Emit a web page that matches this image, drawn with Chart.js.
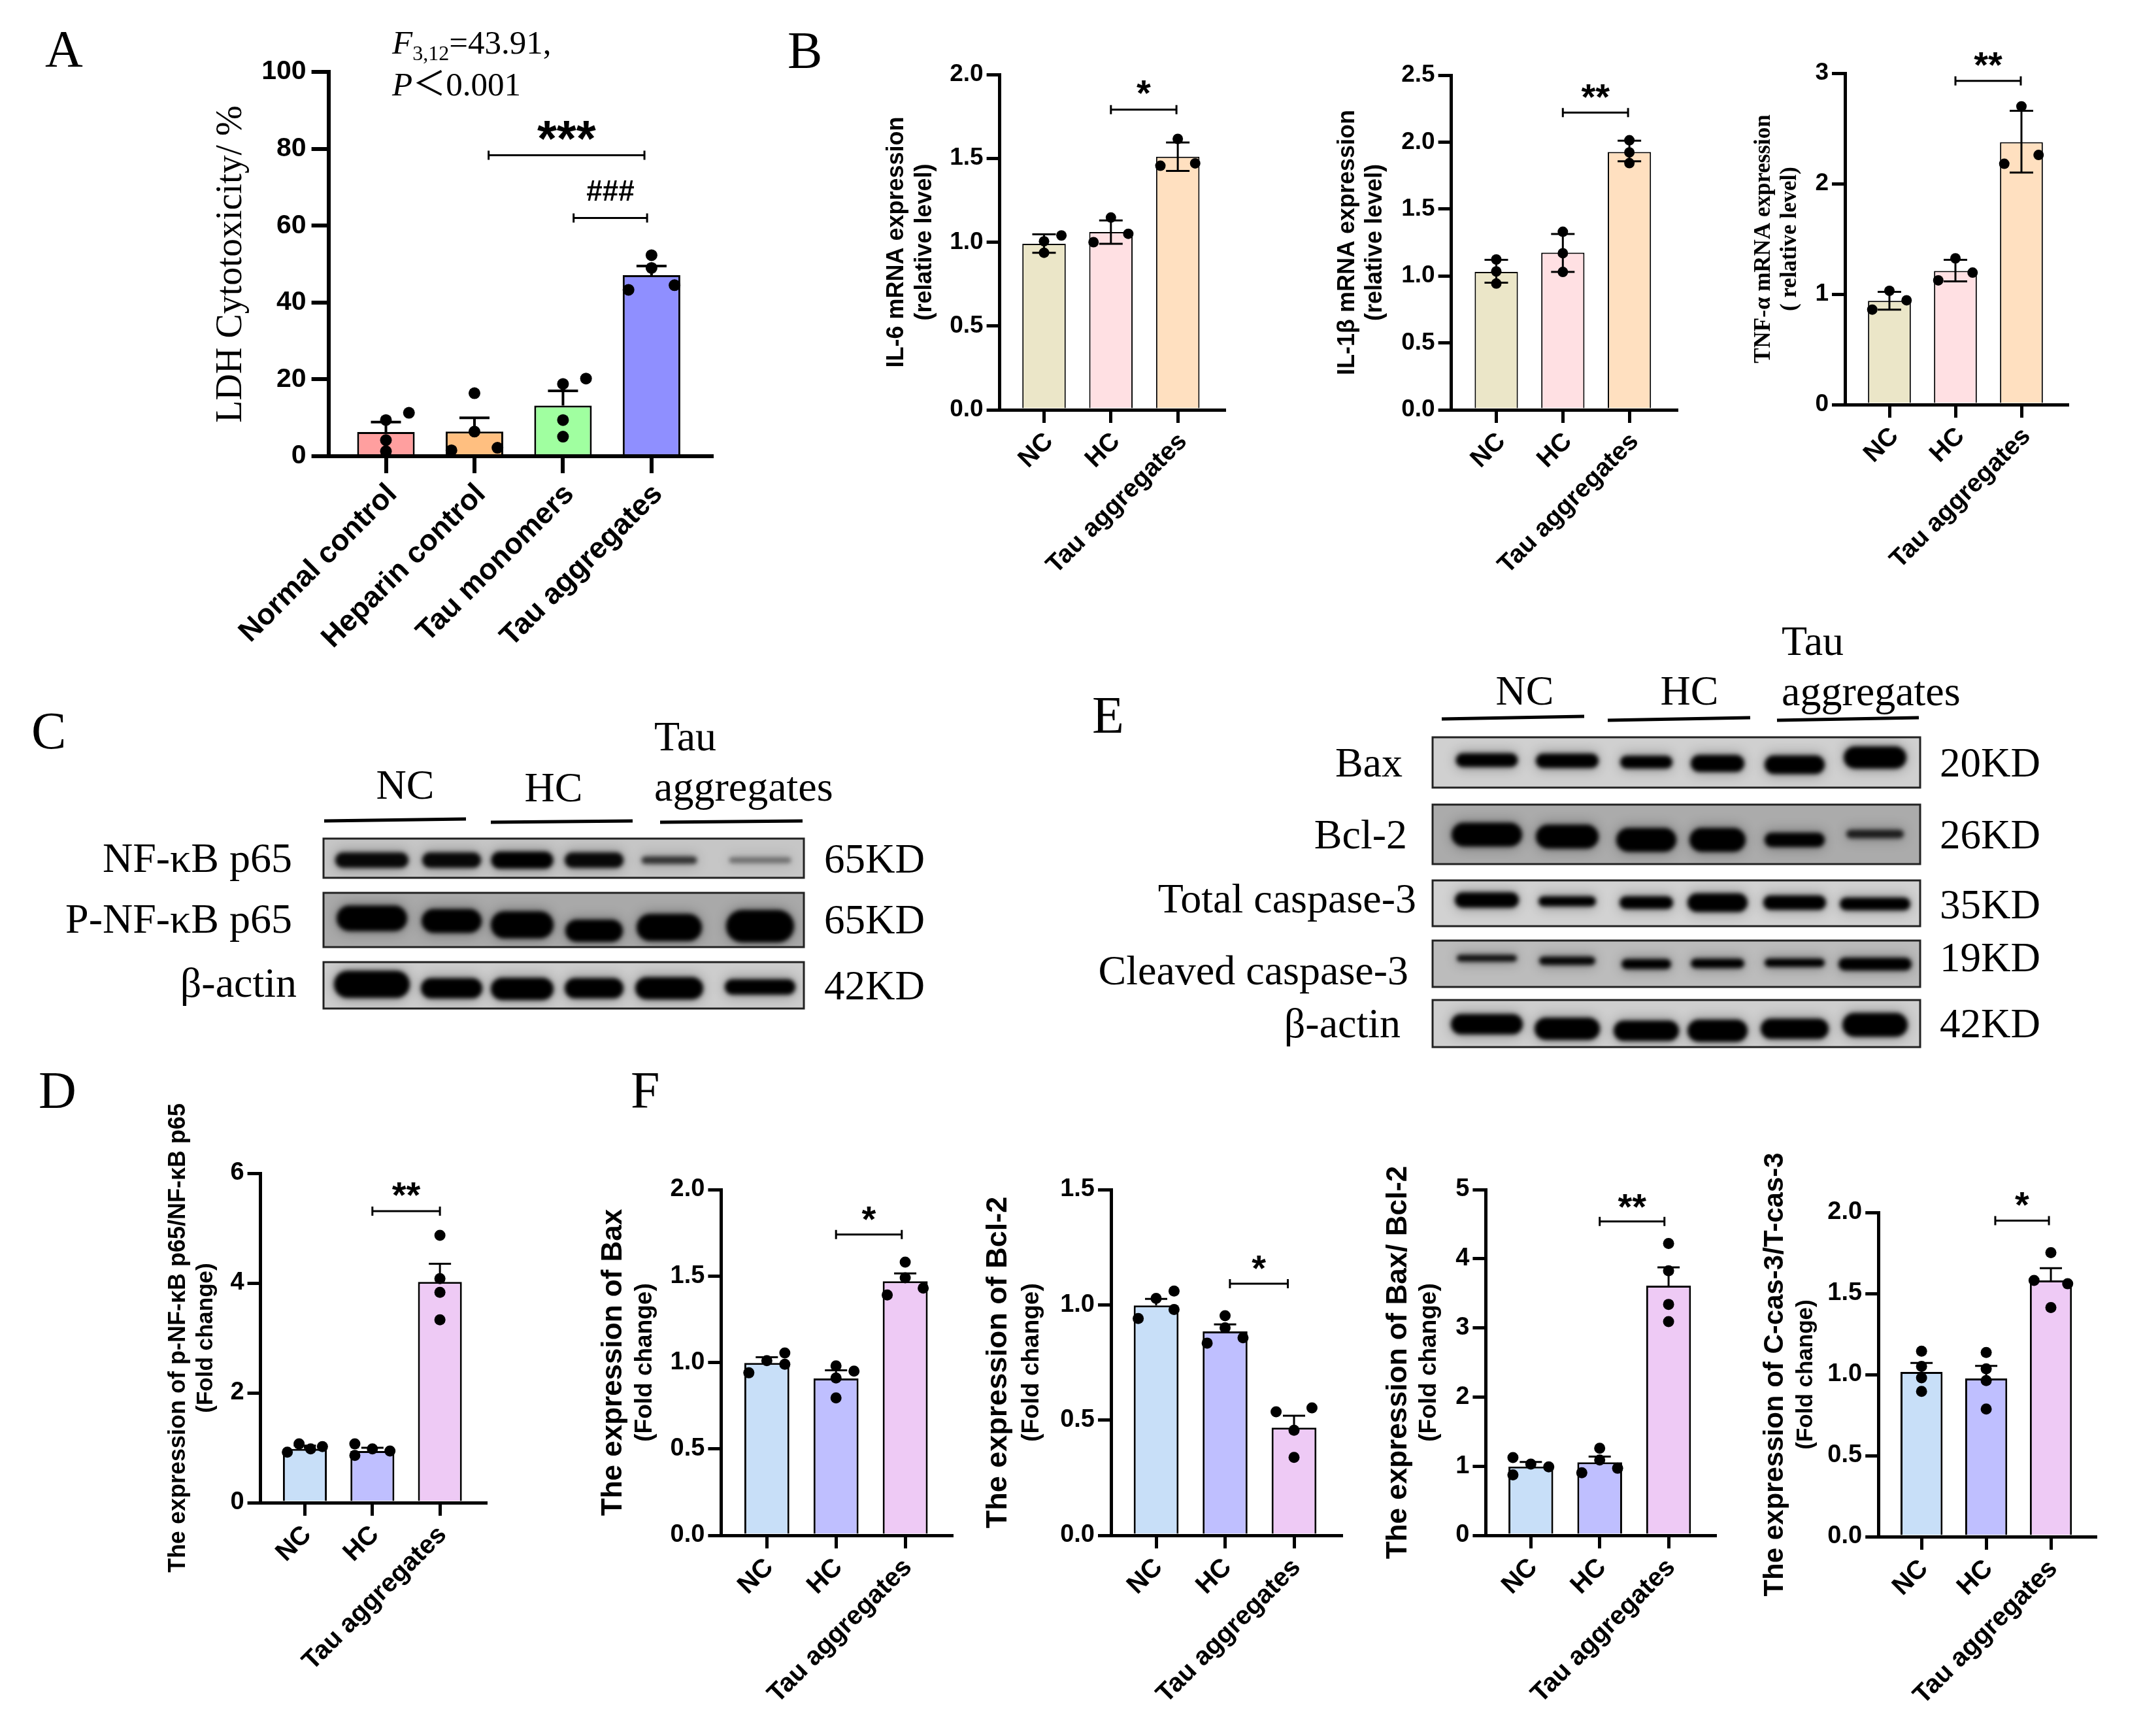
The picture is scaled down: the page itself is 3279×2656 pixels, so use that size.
<!DOCTYPE html>
<html>
<head>
<meta charset="utf-8">
<script src="https://cdn.jsdelivr.net/npm/chart.js@4"></script>
<style>
  html, body { margin: 0; background: #fff; }
  #page { position: relative; width: 3279px; height: 2656px; overflow: hidden; }
  #page canvas { position: absolute; }
  .t { position: absolute; font-family: "Liberation Serif", serif; color: #000; white-space: nowrap; line-height: 1; }
</style>
</head>
<body>
<div id="page"><canvas id="blots" width="3279" height="2656" style="left:0;top:0"></canvas></div>
<script>
// group names
const ldhGroups = ['Normal control', 'Heparin control', 'Tau monomers', 'Tau aggregates'];
const tauGroups = ['NC', 'HC', 'Tau aggregates'];

// A - LDH
const ldhTicks = [0, 20, 40, 60, 80, 100];
const ldhLabels = ['0', '20', '40', '60', '80', '100'];
const ldhMeans = [6.3, 6.4, 13.2, 47.1];
const ldhErrHigh = [8.9, 10, 17, 49.5];
const ldhDots = [[11.3, 9.4, 4.2, 1.3], [16.4, 6.4, 1.55, 2.2], [18.8, 20.2, 9.4, 5.1], [52.3, 49, 44.5, 43.3]];
const ldhSides = [[1, 0, 0, 0], [0, 0, -1, 1], [0, 1, 0, 0], [0, 0, 1, -1]];

// B - mRNA
const il6Ticks = [0, 0.5, 1, 1.5, 2];
const il6Labels = ['0.0', '0.5', '1.0', '1.5', '2.0'];
const il6Means = [0.99, 1.06, 1.51];
const il6ErrHigh = [1.047, 1.13, 1.595];
const il6ErrLow = [0.937, 0.99, 1.425];
const il6Dots = [[1.005, 1.04, 0.937], [1.147, 1.05, 1.0], [1.616, 1.456, 1.47]];
const il6Sides = [[0, 1, 0], [0, 1, -1], [0, -1, 1]];

const il1Ticks = [0, 0.5, 1, 1.5, 2, 2.5];
const il1Labels = ['0.0', '0.5', '1.0', '1.5', '2.0', '2.5'];
const il1Means = [1.03, 1.174, 1.926];
const il1ErrHigh = [1.12, 1.314, 2.01];
const il1ErrLow = [0.95, 1.03, 1.857];
const il1Dots = [[1.123, 1.034, 0.943], [1.33, 1.17, 1.03], [2.014, 1.923, 1.843]];
const il1Sides = [[0, 0, 0], [0, 0, 0], [0, 0, 0]];

const tnfTicks = [0, 1, 2, 3];
const tnfLabels = ['0', '1', '2', '3'];
const tnfMeans = [0.94, 1.21, 2.376];
const tnfErrHigh = [1.02, 1.31, 2.66];
const tnfErrLow = [0.86, 1.115, 2.1];
const tnfDots = [[1.03, 0.944, 0.86], [1.324, 1.195, 1.125], [2.7, 2.26, 2.18]];
const tnfSides = [[0, 1, -1], [0, 1, -1], [0, 1, -1]];

// D - p-NF-kB
const pnfTicks = [0, 2, 4, 6];
const pnfLabels = ['0', '2', '4', '6'];
const pnfMeans = [0.98, 0.94, 4.02];
const pnfErrHigh = [1.04, 1.0, 4.35];
const pnfDots = [[0.92, 1.07, 0.98, 1.02], [1.07, 0.86, 0.98, 0.94], [4.87, 4.08, 3.83, 3.33]];
const pnfSides = [[-1, -0.33, 0.33, 1], [-1, -1, 0, 1], [0, 0, 0, 0]];

// F - apoptosis markers
const baxTicks = [0, 0.5, 1, 1.5, 2];
const baxLabels = ['0.0', '0.5', '1.0', '1.5', '2.0'];
const baxMeans = [0.9975, 0.9075, 1.47];
const baxErrHigh = [1.03, 0.955, 1.515];
const baxDots = [[0.94, 1.01, 1.055, 0.99], [0.98, 0.95, 0.91, 0.795], [1.58, 1.49, 1.43, 1.39]];
const baxSides = [[-1, 0, 1, 1], [0, 1, 0, 0], [0, 0, 1, -1]];

const bclTicks = [0, 0.5, 1, 1.5];
const bclLabels = ['0.0', '0.5', '1.0', '1.5'];
const bclMeans = [0.9975, 0.885, 0.467];
const bclErrHigh = [1.026, 0.915, 0.519];
const bclDots = [[0.941, 1.028, 1.06, 0.98], [0.953, 0.9, 0.834, 0.857], [0.536, 0.553, 0.456, 0.338]];
const bclSides = [[-1, 0, 1, 1], [0, 0, -1, 1], [-1, 1, 0, 0]];

const ratioTicks = [0, 1, 2, 3, 4, 5];
const ratioLabels = ['0', '1', '2', '3', '4', '5'];
const ratioMeans = [0.994, 1.056, 3.61];
const ratioErrHigh = [1.06, 1.14, 3.875];
const ratioDots = [[1.125, 0.875, 1.03, 0.99], [1.26, 1.09, 0.906, 0.97], [4.22, 3.825, 3.34, 3.09]];
const ratioSides = [[-1, -1, 0, 1], [0, 0, -1, 1], [0, 0, 0, 0]];

const casTicks = [0, 0.5, 1, 1.5, 2];
const casLabels = ['0.0', '0.5', '1.0', '1.5', '2.0'];
const casMeans = [1.016, 0.976, 1.581];
const casErrHigh = [1.072, 1.053, 1.656];
const casDots = [[1.144, 1.05, 0.98, 0.896], [1.136, 1.035, 0.963, 0.787], [1.752, 1.581, 1.56, 1.413]];
const casSides = [[0, 0, 0, 0], [0, 0, 0, 0], [0, -1, 1, 0]];

const ldhColors = ['#FF9F9F', '#FFBF80', '#A0FFA0', '#8F8FFF'];
const mrnaColors = ['#EBE6C8', '#FFE0E3', '#FFE0C0'];
const blotColors = ['#C8DFF8', '#BFBFFF', '#EECAF5'];

const SANS = '"Liberation Sans", Arial, sans-serif';
const SERIF = '"Liberation Serif", serif';

// error bars, significance brackets and the second title line
const panelMarks = {
    id: 'panelMarks',
    afterDatasetDraw(chart, args, o) {
        if (args.index !== 0) return;
        const { ctx, scales: { x, y } } = chart;
        ctx.save();
        ctx.strokeStyle = '#000';
        ctx.lineWidth = o.errWidth;
        o.errHigh.forEach((hi, i) => {
            const px = x.getPixelForValue(i);
            const lo = o.errLow ? o.errLow[i] : o.means[i];
            ctx.beginPath();
            ctx.moveTo(px, y.getPixelForValue(lo));
            ctx.lineTo(px, y.getPixelForValue(hi));
            ctx.moveTo(px - o.cap, y.getPixelForValue(hi));
            ctx.lineTo(px + o.cap, y.getPixelForValue(hi));
            if (o.errLow) {
                ctx.moveTo(px - o.cap, y.getPixelForValue(lo));
                ctx.lineTo(px + o.cap, y.getPixelForValue(lo));
            }
            ctx.stroke();
        });
        ctx.restore();
    },
    afterDraw(chart, args, o) {
        const { ctx, scales: { x, y } } = chart;
        ctx.save();
        ctx.strokeStyle = '#000';
        ctx.fillStyle = '#000';
        ctx.lineWidth = 3;
        o.brackets.forEach(b => {
            const x1 = x.getPixelForValue(b.from), x2 = x.getPixelForValue(b.to), py = y.getPixelForValue(b.y);
            ctx.beginPath();
            ctx.moveTo(x1, py - 7); ctx.lineTo(x1, py + 7);
            ctx.moveTo(x1, py); ctx.lineTo(x2, py);
            ctx.moveTo(x2, py - 7); ctx.lineTo(x2, py + 7);
            ctx.stroke();
            ctx.font = `bold ${b.size}px ${SANS}`;
            ctx.textAlign = 'center';
            ctx.textBaseline = 'alphabetic';
            ctx.fillText(b.label, (x1 + x2) / 2, py + b.drop);
        });
        if (o.sub) {
            ctx.save();
            ctx.translate(o.sub.x, (y.top + y.bottom) / 2);
            ctx.rotate(-Math.PI / 2);
            ctx.font = o.sub.font;
            ctx.textAlign = 'center';
            ctx.textBaseline = 'middle';
            ctx.fillText(o.sub.text, 0, 0);
            ctx.restore();
        }
        ctx.restore();
    }
};

function renderPanel(p) {
    const page = document.getElementById('page');
    const padTop = Math.min(p.top, 130), padRight = 20, xH = p.xH || 340;
    const yW = p.left - (p.titleX - 0.6 * p.titleSize);
    const canvas = document.createElement('canvas');
    const canvasLeft = p.left - yW, canvasTop = p.top - padTop;
    canvas.width = yW + (p.right - p.left) + padRight;
    canvas.height = padTop + (p.bottom - p.top) + xH;
    canvas.style.left = canvasLeft + 'px';
    canvas.style.top = canvasTop + 'px';
    page.appendChild(canvas);

    const dots = [];
    p.dots.forEach((g, i) => g.forEach((v, j) => dots.push({ x: i + p.sides[i][j] * 0.26, y: v })));

    new Chart(canvas, {
        type: 'bar',
        data: {
            datasets: [{
                type: 'bar',
                data: p.means.map((v, i) => ({ x: i, y: v })),
                backgroundColor: p.colors,
                borderColor: '#000',
                borderWidth: p.barBorder,
                barPercentage: 0.65,
                categoryPercentage: 1,
                order: 2
            }, {
                type: 'scatter',
                data: dots,
                pointRadius: p.dotR,
                pointBackgroundColor: '#000',
                pointBorderWidth: 0,
                clip: false,
                order: 1
            }]
        },
        options: {
            responsive: false,
            animation: false,
            layout: { autoPadding: false, padding: { top: padTop, right: padRight, left: 0, bottom: 0 } },
            plugins: {
                legend: { display: false },
                tooltip: { enabled: false },
                panelMarks: {
                    means: p.means, errHigh: p.errHigh, errLow: p.errLow,
                    cap: p.cap, errWidth: p.errWidth, brackets: p.brackets,
                    sub: p.sub ? { text: p.sub, x: p.subX - canvasLeft, font: p.subFont } : null
                }
            },
            scales: {
                x: {
                    type: 'linear',
                    offset: false,
                    min: (p.left - p.firstX) / p.stepX,
                    max: (p.right - p.firstX) / p.stepX,
                    afterBuildTicks: a => { a.ticks = p.groups.map((g, i) => ({ value: i })); },
                    afterFit: a => { a.height = xH; },
                    border: { color: '#000', width: p.axisW },
                    grid: { offset: false, drawOnChartArea: false, color: '#000', lineWidth: p.tickW, tickLength: p.tickLen },
                    ticks: {
                        autoSkip: false, minRotation: 45, maxRotation: 45, padding: p.xPad, labelOffset: p.xShift,
                        color: '#000', font: { family: SANS, weight: 'bold', size: p.xSize },
                        callback: (v, i) => p.groups[i]
                    }
                },
                y: {
                    min: 0,
                    max: p.ticks[p.ticks.length - 1],
                    afterBuildTicks: a => { a.ticks = p.ticks.map(v => ({ value: v })); },
                    afterFit: a => { a.width = yW; },
                    border: { color: '#000', width: p.axisW },
                    grid: { drawOnChartArea: false, color: '#000', lineWidth: p.tickW, tickLength: p.tickLen },
                    ticks: {
                        padding: p.yPad, color: '#000',
                        font: { family: SANS, weight: 'bold', size: p.ySize },
                        callback: (v, i) => p.labels[i]
                    },
                    title: {
                        display: true, text: p.title, color: '#000', padding: 0,
                        font: { family: p.titleFamily || SANS, weight: p.titleWeight || 'bold', size: p.titleSize }
                    }
                }
            }
        },
        plugins: [panelMarks]
    });
}

const mrnaStyle = { groups: tauGroups, colors: mrnaColors, barBorder: 2, dotR: 8, cap: 18, errWidth: 3, axisW: 5, tickW: 5, tickLen: 20, xPad: 6, xShift: 8, yPad: 5, xSize: 39, ySize: 37 };
const foldStyle = { groups: tauGroups, colors: blotColors, barBorder: 3, dotR: 8.5, cap: 17, errWidth: 3, axisW: 5, tickW: 5, tickLen: 20, xPad: 6, xShift: 4, yPad: 5, xSize: 40, ySize: 38, subFont: `bold 37px ${SANS}`, sub: '(Fold change)' };

renderPanel({
    groups: ldhGroups, colors: ldhColors, barBorder: 3, dotR: 9, cap: 23, errWidth: 4, axisW: 6, tickW: 6, tickLen: 26, xPad: 6, xShift: 10, yPad: 8, xSize: 45, ySize: 41,
    left: 503, right: 1090, top: 110, bottom: 698, firstX: 591, stepX: 135.6,
    ticks: ldhTicks, labels: ldhLabels, means: ldhMeans, errHigh: ldhErrHigh, dots: ldhDots, sides: ldhSides,
    title: 'LDH Cytotoxicity/ %', titleX: 355, titleSize: 56, titleFamily: SERIF, titleWeight: 'normal',
    brackets: [{ from: 1.16, to: 2.92, y: 78.3, label: '***', size: 77, drop: 1 }, { from: 2.12, to: 2.95, y: 62, label: '###', size: 44, drop: -26 }]
});
renderPanel({
    ...mrnaStyle, left: 1530, right: 1874, top: 114, bottom: 627, firstX: 1598, stepX: 102.5,
    ticks: il6Ticks, labels: il6Labels, means: il6Means, errHigh: il6ErrHigh, errLow: il6ErrLow, dots: il6Dots, sides: il6Sides,
    title: 'IL-6 mRNA expression', titleX: 1372, titleSize: 36, sub: '(relative level)', subX: 1415, subFont: `bold 36px ${SANS}`,
    brackets: [{ from: 1, to: 1.98, y: 1.79, label: '*', size: 56, drop: -7 }]
});
renderPanel({
    ...mrnaStyle, left: 2221, right: 2566, top: 115, bottom: 627, firstX: 2290, stepX: 102,
    ticks: il1Ticks, labels: il1Labels, means: il1Means, errHigh: il1ErrHigh, errLow: il1ErrLow, dots: il1Dots, sides: il1Sides,
    title: 'IL-1β mRNA expression', titleX: 2062, titleSize: 36, sub: '(relative level)', subX: 2104, subFont: `bold 36px ${SANS}`,
    brackets: [{ from: 1, to: 1.98, y: 2.22, label: '**', size: 56, drop: -5 }]
});
renderPanel({
    ...mrnaStyle, left: 2823, right: 3163, top: 112, bottom: 619, firstX: 2891, stepX: 101,
    ticks: tnfTicks, labels: tnfLabels, means: tnfMeans, errHigh: tnfErrHigh, errLow: tnfErrLow, dots: tnfDots, sides: tnfSides,
    title: 'TNF-α mRNA expression', titleX: 2699, titleSize: 35, titleFamily: SERIF, sub: '( relative level)', subX: 2739, subFont: `bold 35px ${SERIF}`,
    brackets: [{ from: 1, to: 1.99, y: 2.93, label: '**', size: 56, drop: -6 }]
});
renderPanel({
    ...foldStyle, left: 399, right: 744, top: 1795, bottom: 2299, firstX: 467, stepX: 103.5,
    ticks: pnfTicks, labels: pnfLabels, means: pnfMeans, errHigh: pnfErrHigh, dots: pnfDots, sides: pnfSides,
    title: 'The expression of p-NF-κB p65/NF-κB p65', titleX: 273, titleSize: 36, subX: 316, subFont: `bold 35px ${SANS}`,
    brackets: [{ from: 1, to: 2, y: 5.31, label: '**', size: 56, drop: -6 }]
});
renderPanel({
    ...foldStyle, left: 1103, right: 1456, top: 1820, bottom: 2349, firstX: 1173, stepX: 106,
    ticks: baxTicks, labels: baxLabels, means: baxMeans, errHigh: baxErrHigh, dots: baxDots, sides: baxSides,
    title: 'The expression of Bax', titleX: 938, titleSize: 44, subX: 986,
    brackets: [{ from: 1, to: 1.95, y: 1.74, label: '*', size: 56, drop: -5 }]
});
renderPanel({
    ...foldStyle, left: 1700, right: 2052, top: 1820, bottom: 2349, firstX: 1769, stepX: 105.5,
    ticks: bclTicks, labels: bclLabels, means: bclMeans, errHigh: bclErrHigh, dots: bclDots, sides: bclSides,
    title: 'The expression of Bcl-2', titleX: 1528, titleSize: 45, subX: 1579,
    brackets: [{ from: 1.07, to: 1.91, y: 1.092, label: '*', size: 56, drop: -5 }]
});
renderPanel({
    ...foldStyle, left: 2273, right: 2624, top: 1820, bottom: 2349, firstX: 2342, stepX: 105.5,
    ticks: ratioTicks, labels: ratioLabels, means: ratioMeans, errHigh: ratioErrHigh, dots: ratioDots, sides: ratioSides,
    title: 'The expression of Bax/ Bcl-2', titleX: 2139, titleSize: 44, subX: 2186,
    brackets: [{ from: 1, to: 1.94, y: 4.54, label: '**', size: 56, drop: -4 }]
});
renderPanel({
    ...foldStyle, left: 2874, right: 3206, top: 1855, bottom: 2351, firstX: 2940, stepX: 99,
    ticks: casTicks, labels: casLabels, means: casMeans, errHigh: casErrHigh, dots: casDots, sides: casSides,
    title: 'The expression of C-cas-3/T-cas-3', titleX: 2716, titleSize: 42, subX: 2763, subFont: `bold 35px ${SANS}`,
    brackets: [{ from: 1.14, to: 1.97, y: 1.95, label: '*', size: 56, drop: -5 }]
});

// western blots are photographs in the original, painted here as soft bands
const blotCtx = document.getElementById('blots').getContext('2d');
function paintBlot(x, y, w, h, bg, lanes, bands) {
    blotCtx.save();
    blotCtx.fillStyle = bg;
    blotCtx.fillRect(x, y, w, h);
    blotCtx.beginPath();
    blotCtx.rect(x, y, w, h);
    blotCtx.clip();
    bands.forEach((b, i) => {
        const t = b[1] * 1.3;
        // faint smear round the band, then the dense core
        blotCtx.filter = 'blur(9px)';
        blotCtx.fillStyle = `rgba(0,0,0,${b[3] * 0.3})`;
        blotCtx.beginPath();
        blotCtx.roundRect(lanes[i] - b[2] / 2, b[0] - t / 2 - 3, b[2], t + 6, t / 2);
        blotCtx.fill();
        blotCtx.filter = 'blur(3px)';
        blotCtx.fillStyle = `rgba(0,0,0,${b[3]})`;
        blotCtx.beginPath();
        blotCtx.roundRect(lanes[i] - b[2] / 2, b[0] - t / 2, b[2], t, t / 2);
        blotCtx.fill();
    });
    blotCtx.filter = 'none';
    blotCtx.restore();
    blotCtx.strokeStyle = '#222';
    blotCtx.lineWidth = 3;
    blotCtx.strokeRect(x, y, w, h);
}
function rule(x1, y1, x2, y2) {
    blotCtx.strokeStyle = '#000';
    blotCtx.lineWidth = 5;
    blotCtx.beginPath();
    blotCtx.moveTo(x1, y1);
    blotCtx.lineTo(x2, y2);
    blotCtx.stroke();
}
const lanesC = [569, 691, 799, 909, 1024, 1163];
paintBlot(495, 1283, 735, 60, '#c6c6c6', lanesC, [[1316, 18, 112, .95], [1316, 18, 90, .95], [1316, 20, 95, 1], [1316, 18, 90, .95], [1316, 9, 85, .7], [1316, 7, 95, .4]]);
paintBlot(495, 1366, 735, 83, '#a9a9a9', lanesC, [[1405, 30, 108, 1], [1409, 28, 92, 1], [1415, 32, 96, 1], [1424, 26, 88, 1], [1419, 32, 100, 1], [1417, 38, 104, 1]]);
paintBlot(495, 1472, 735, 71, '#cdcdcd', lanesC, [[1506, 32, 116, 1], [1512, 24, 94, 1], [1513, 26, 96, 1], [1512, 24, 90, 1], [1512, 26, 104, 1], [1510, 18, 108, 1]]);
rule(496, 1256, 713, 1253); rule(751, 1258, 968, 1256); rule(1010, 1258, 1228, 1256);

const lanesE = [2275, 2398, 2519, 2628, 2746, 2869];
paintBlot(2192, 1128, 746, 77, '#d0d0d0', lanesE, [[1163, 16, 95, 1], [1164, 17, 96, 1], [1166, 15, 80, 1], [1168, 20, 82, 1], [1170, 22, 92, 1], [1159, 26, 96, 1]]);
paintBlot(2192, 1231, 746, 91, '#ababab', lanesE, [[1277, 28, 108, 1], [1280, 28, 96, 1], [1285, 28, 92, 1], [1285, 28, 86, 1], [1285, 17, 92, 1], [1276, 10, 88, .8]]);
paintBlot(2192, 1347, 746, 70, '#d2d2d2', lanesE, [[1377, 18, 98, 1], [1379, 12, 88, 1], [1381, 15, 82, 1], [1381, 22, 92, 1], [1381, 17, 96, 1], [1383, 15, 108, 1]]);
paintBlot(2192, 1439, 746, 71, '#bcbcbc', lanesE, [[1466, 8, 92, .9], [1470, 10, 86, .95], [1475, 12, 76, 1], [1474, 11, 82, 1], [1473, 10, 92, 1], [1475, 15, 112, 1]]);
paintBlot(2192, 1530, 746, 72, '#cfcfcf', lanesE, [[1567, 24, 110, 1], [1574, 26, 100, 1], [1577, 24, 100, 1], [1577, 26, 92, 1], [1574, 24, 104, 1], [1568, 28, 100, 1]]);
rule(2206, 1100, 2424, 1096); rule(2460, 1102, 2678, 1098); rule(2719, 1102, 2936, 1098);

// free standing text: x is the left edge, or the right edge when align is 'r', the centre when 'c'; y is the baseline
function addText(html, x, y, size, align) {
    const el = document.createElement('div');
    el.className = 't';
    el.innerHTML = html;
    el.style.fontSize = size + 'px';
    el.style.top = (y - size * 0.891) + 'px';
    if (align === 'r') el.style.right = (3279 - x) + 'px';
    else if (align === 'c') { el.style.left = x + 'px'; el.style.transform = 'translateX(-50%)'; }
    else el.style.left = x + 'px';
    document.getElementById('page').appendChild(el);
}
const panelLetters = [['A', 69, 106], ['B', 1205, 108], ['C', 48, 1149], ['D', 59, 1699], ['E', 1671, 1125], ['F', 965, 1699]];
panelLetters.forEach(([s, x, y]) => addText(s, x, y, 80));

addText('<i>F</i><span style="font-size:32px;position:relative;top:10px">3,12</span>=43.91,', 600, 85, 51);
addText('<i>P</i><span style="font-family:\'Noto Sans CJK SC\'">＜</span>0.001', 600, 144, 51);

addText('NC', 620, 1226, 64, 'c'); addText('HC', 847, 1230, 64, 'c');
addText('Tau', 1001, 1152, 64); addText('aggregates', 1001, 1229, 64);
addText('NF-κB p65', 447, 1338, 64, 'r'); addText('P-NF-κB p65', 447, 1431, 64, 'r'); addText('β-actin', 454, 1529, 64, 'r');
addText('65KD', 1261, 1339, 63); addText('65KD', 1261, 1432, 63); addText('42KD', 1261, 1533, 63);

addText('NC', 2333, 1082, 64, 'c'); addText('HC', 2585, 1082, 64, 'c');
addText('Tau', 2726, 1006, 64); addText('aggregates', 2726, 1083, 64);
addText('Bax', 2146, 1192, 64, 'r'); addText('Bcl-2', 2153, 1302, 64, 'r'); addText('Total caspase-3', 2167, 1400, 64, 'r');
addText('Cleaved caspase-3', 2155, 1510, 64, 'r'); addText('β-actin', 2143, 1591, 64, 'r');
addText('20KD', 2968, 1192, 63); addText('26KD', 2968, 1302, 63); addText('35KD', 2968, 1409, 63);
addText('19KD', 2968, 1490, 63); addText('42KD', 2968, 1591, 63);
</script>
</body>
</html>
